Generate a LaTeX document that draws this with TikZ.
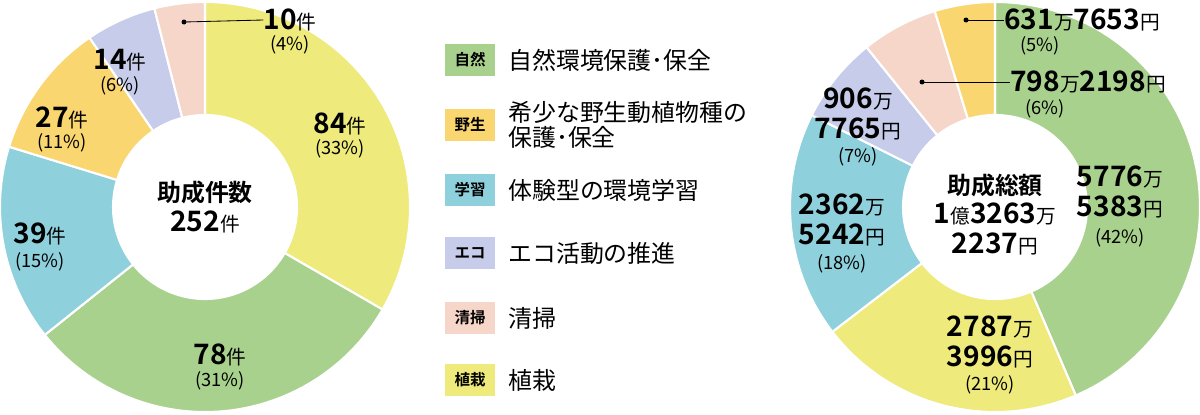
\documentclass[tikz,border=0pt]{standalone}
\usepackage{fontspec}
\setmainfont{Noto Sans CJK JP}[BoldFont={Noto Sans CJK JP Bold}]
\definecolor{cgreen}{HTML}{A9D18E}
\definecolor{cyellow}{HTML}{EEEA7C}
\definecolor{cteal}{HTML}{8ED0DB}
\definecolor{corange}{HTML}{FAD671}
\definecolor{clav}{HTML}{C6CCE9}
\definecolor{cpink}{HTML}{F6D6C9}
\newcommand{\tani}[1]{{\normalfont\fontsize{14}{14}\selectfont #1}}
\begin{document}
\begin{tikzpicture}
[x=0.025cm, y=-0.025cm,
num/.style={font=\bfseries\fontsize{20}{21}\selectfont, inner sep=0pt},
pct/.style={font=\fontsize{13}{13}\selectfont, inner sep=0pt},
leg/.style={font=\fontsize{17}{18}\selectfont, anchor=west, inner sep=0pt, align=left},
legbox/.style={minimum width=1.25cm, minimum height=0.82cm, inner sep=0pt, font=\bfseries\fontsize{11}{11}\selectfont},
leader/.style={line width=0.6pt}
]
\useasboundingbox (0,0) rectangle (1200,414);

% left donut
\begin{scope}[shift={(205,207)}, x=0.025cm, y=0.025cm]
\foreach \a/\b/\c in {90/-30/cyellow, -30/-141.4/cgreen, -141.4/-197.1/cteal,
  -197.1/-235.7/corange, -235.7/-255.7/clav, -255.7/-270/cpink}
{\filldraw[fill=\c, draw=white, line width=1.5pt] (\a:205) arc (\a:\b:205) -- (\b:92) arc (\b:\a:92) -- cycle;}
\end{scope}

% right donut
\begin{scope}[shift={(995,207)}, x=0.025cm, y=0.025cm]
\foreach \a/\b/\c in {90/-66.8/cgreen, -66.8/-142.5/cyellow, -142.5/-206.6/cteal,
  -206.6/-231.2/clav, -231.2/-252.9/cpink, -252.9/-270/corange}
{\filldraw[fill=\c, draw=white, line width=1.5pt] (\a:205) arc (\a:\b:205) -- (\b:92) arc (\b:\a:92) -- cycle;}
\end{scope}

% left labels
\node[num] (l84) at (340,124) {84\tani{件}};
\node[pct] (p84) at (340,149) {(33\%)};
\node[num] (l78) at (220,355) {78\tani{件}};
\node[pct] (p78) at (220,381) {(31\%)};
\node[num] (l39) at (40,234) {39\tani{件}};
\node[pct] (p39) at (40,262) {(15\%)};
\node[num] (l27) at (62,118) {27\tani{件}};
\node[pct] (p27) at (62,143) {(11\%)};
\node[num] (l14) at (120,60) {14\tani{件}};
\node[pct] (p14) at (120,86) {(6\%)};
\node[num] (l10) at (290,20) {10\tani{件}};
\node[pct] (p10) at (290,45) {(4\%)};
\coordinate (d10) at (184,22);
\draw[leader] (d10) -- (l10.west);
\fill (d10) circle (2.5);
\node[font=\bfseries\fontsize{17}{17}\selectfont, inner sep=0pt] (lc1) at (205,192) {助成件数};
\node[num] (lc2) at (205,222) {252\tani{件}};

% right labels
\node[num, align=center] (r42) at (1120,192) {5776\tani{万}\\5383\tani{円}};
\node[pct] (q42) at (1120,238) {(42\%)};
\node[num, align=center] (r21) at (990,342) {2787\tani{万}\\3996\tani{円}};
\node[pct] (q21) at (990,385) {(21\%)};
\node[num, align=center] (r18) at (842,220) {2362\tani{万}\\5242\tani{円}};
\node[pct] (q18) at (842,264) {(18\%)};
\node[num, align=center] (r7) at (858,114) {906\tani{万}\\7765\tani{円}};
\node[pct] (q7) at (858,157) {(7\%)};
\node[num] (r6) at (1088,82) {798\tani{万}2198\tani{円}};
\node[pct] (q6) at (1045,109) {(6\%)};
\node[num] (r5) at (1082,20) {631\tani{万}7653\tani{円}};
\node[pct] (q5) at (1040,46) {(5\%)};
\coordinate (d6) at (922,82);
\coordinate (d5) at (966,20);
\draw[leader] (d6) -- (r6.west);
\draw[leader] (d5) -- (r5.west);
\fill (d6) circle (2.5) (d5) circle (2.5);
\node[font=\bfseries\fontsize{17}{17}\selectfont, inner sep=0pt] (rc1) at (995,185) {助成総額};
\node[num] (rc2) at (995,214) {1\tani{億}3263\tani{万}};
\node[num] (rc3) at (995,244) {2237\tani{円}};

% legend
\node[legbox, fill=cgreen] (b1) at (470,60) {自然};
\node[leg] (t1) at (508,60) {自然環境保護･保全};
\node[legbox, fill=corange] (b2) at (470,125) {野生};
\node[leg] (t2) at (508,125) {希少な野生動植物種の\\保護･保全};
\node[legbox, fill=cteal] (b3) at (470,190) {学習};
\node[leg] (t3) at (508,190) {体験型の環境学習};
\node[legbox, fill=clav] (b4) at (470,253) {エコ};
\node[leg] (t4) at (508,253) {エコ活動の推進};
\node[legbox, fill=cpink] (b5) at (470,318) {清掃};
\node[leg] (t5) at (508,318) {清掃};
\node[legbox, fill=cyellow] (b6) at (470,380) {植栽};
\node[leg] (t6) at (508,380) {植栽};
\end{tikzpicture}
\end{document}
